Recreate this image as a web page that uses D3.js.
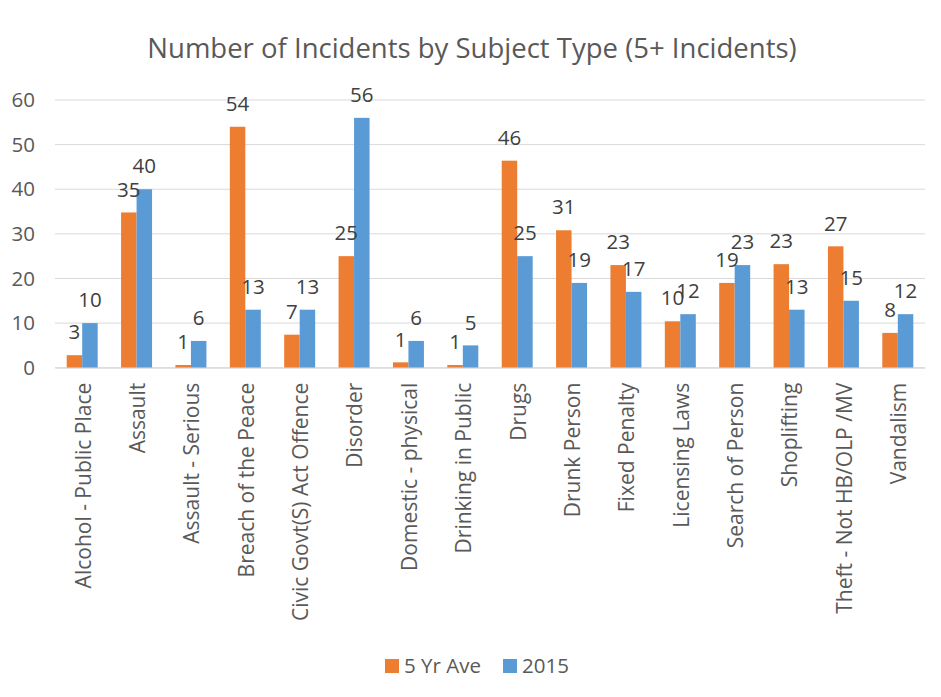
<!DOCTYPE html>
<html><head><meta charset="utf-8">
<script src="https://cdn.jsdelivr.net/npm/d3@7"></script>
<style>html,body{margin:0;padding:0;background:#fff;}svg{display:block;}</style>
</head><body>
<script>
const categories = ["Alcohol - Public Place","Assault","Assault - Serious","Breach of the Peace","Civic Govt(S) Act Offence","Disorder","Domestic - physical","Drinking in Public","Drugs","Drunk Person","Fixed Penalty","Licensing Laws","Search of Person","Shoplifting","Theft - Not HB/OLP /MV","Vandalism"];
const fiveYrAve = [2.8,34.8,0.6,54,7.4,25,1.2,0.6,46.4,30.8,23,10.4,19,23.2,27.2,7.8];
const y2015 = [10,40,6,13,13,56,6,5,25,19,17,12,23,13,15,12];
const seriesNames = ["5 Yr Ave","2015"];
const seriesColors = ["#ED7D31","#5B9BD5"];
const yTicks = [0,10,20,30,40,50,60];

const W=941,H=697;
const m={left:55,right:16};
const font="'Open Sans', 'Noto Sans', sans-serif";
const txt="#595959";
const svg=d3.select("body").append("svg").attr("width",W).attr("height",H).style("font-family",font);

const x=d3.scaleBand().domain(categories).range([m.left,W-m.right]).paddingInner(0.43).paddingOuter(0.215);
const xi=d3.scaleBand().domain(seriesNames).range([0,x.bandwidth()]);
const y=d3.scaleLinear().domain([0,60]).range([367.7,100]);

// gridlines
svg.append("g").selectAll("line").data(yTicks).join("line")
  .attr("x1",m.left).attr("x2",W-m.right).attr("y1",d=>y(d)).attr("y2",d=>y(d))
  .attr("stroke","#d9d9d9").attr("stroke-width",1);

// y axis labels
const yAxis=d3.axisLeft(y).tickValues(yTicks).tickSize(0).tickPadding(0);
const ya=svg.append("g").attr("transform","translate(35,0)").call(yAxis);
ya.select(".domain").remove();
ya.selectAll("text").attr("fill",txt).style("font-size","20.5px").style("font-family",font);

const data=categories.map((c,i)=>({c,vals:[fiveYrAve[i],y2015[i]]}));
const g=svg.append("g").selectAll("g").data(data).join("g").attr("transform",d=>`translate(${x(d.c)},0)`);
g.selectAll("rect").data(d=>d.vals.map((v,j)=>({v,s:seriesNames[j],j}))).join("rect")
  .attr("x",d=>xi(d.s)).attr("width",xi.bandwidth()).attr("y",d=>y(d.v)).attr("height",d=>y(0)-y(d.v))
  .attr("fill",d=>seriesColors[d.j]);
const fmt=d3.format(".0f");
g.selectAll("text").data(d=>d.vals.map((v,j)=>({v,s:seriesNames[j],j}))).join("text")
  .attr("x",d=>xi(d.s)+xi.bandwidth()/2).attr("y",d=>y(d.v)-23).attr("dy","0.35em")
  .attr("text-anchor","middle").attr("fill","#404040").style("font-size","20.5px").text(d=>fmt(d.v));

// x axis
const xAxis=d3.axisBottom(x).tickSize(0).tickPadding(0);
const xa=svg.append("g").attr("transform",`translate(0,${y(0)})`).call(xAxis);
xa.select(".domain").attr("stroke","#d9d9d9");
xa.selectAll("text").attr("fill",txt).style("font-size","21px").style("font-family",font)
  .attr("transform","rotate(-90)").attr("text-anchor","end").attr("x",-15).attr("y",1).attr("dy","0.35em");

// title
svg.append("text").attr("x",472).attr("y",48).attr("dy","0.35em").attr("text-anchor","middle")
  .attr("fill",txt).style("font-size","27.5px").text("Number of Incidents by Subject Type (5+ Incidents)");

// legend
const lg=svg.append("g");
const lx=[385,503];
seriesNames.forEach((s,i)=>{
  lg.append("rect").attr("x",lx[i]).attr("y",659).attr("width",14).attr("height",14).attr("fill",seriesColors[i]);
  lg.append("text").attr("x",lx[i]+19).attr("y",666).attr("dy","0.35em").attr("fill",txt).style("font-size","20.5px").text(s);
});
</script>
</body></html>
